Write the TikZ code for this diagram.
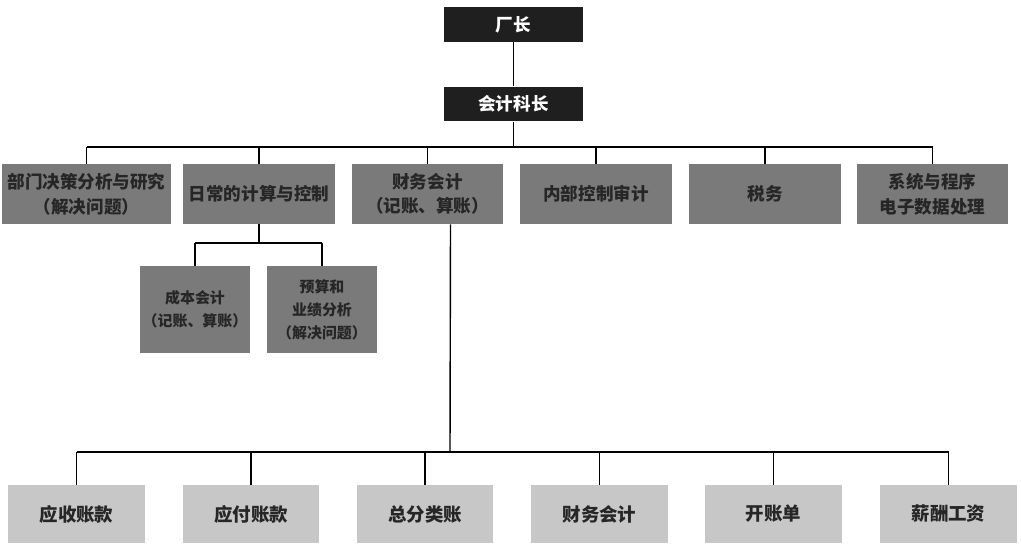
\documentclass[tikz,border=0pt]{standalone}
\usepackage{fontspec}
\newfontfamily\cjk{Noto Sans CJK SC}
\usetikzlibrary{positioning}

\begin{document}
\begin{tikzpicture}[x=0.02cm, y=-0.02cm,
		line/.style={draw, line width=0.8pt},
		head/.style={fill=black!88, text=white, minimum width=2.78cm, minimum height=0.7cm, font=\cjk\bfseries\fontsize{10}{12}\selectfont},
		dept/.style={fill=black!52, text=black!85, align=center, minimum width=3.04cm, minimum height=1.2cm, font=\cjk\bfseries\fontsize{10}{14}\selectfont},
		sub/.style={dept, inner xsep=0pt, minimum width=2.22cm, minimum height=1.74cm, font=\cjk\bfseries\fontsize{8.5}{13}\selectfont},
		leaf/.style={fill=black!22, text=black!85, minimum width=2.74cm, minimum height=1.16cm, font=\cjk\bfseries\fontsize{10.5}{12}\selectfont},
	]
		\useasboundingbox (0,0) rectangle (1021,547);

		% top of the chart
		\node (boss) [head] at (513.5,24.5) {厂长};
		\node (chief) [head] at (513.5,104) {会计科长};

		% second row
		\node (dec) [dept, minimum width=3.22cm] at (86.5,194) {部门决策分析与研究\\（解决问题）};
		\node (ctl) [dept] at (259,194) {日常的计算与控制};
		\node (fin) [dept] at (427.5,194) {财务会计\\（记账、算账）};
		\node (aud) [dept] at (596,194) {内部控制审计};
		\node (tax) [dept] at (765,194) {税务};
		\node (edp) [dept] at (932.5,194) {系统与程序\\电子数据处理};

		% under control
		\node (cost) [sub] at (195,309.5) {成本会计\\（记账、算账）};
		\node (bud) [sub] at (322,309.5) {预算和\\业绩分析\\（解决问题）};

		% bottom row
		\node (ar) [leaf] at (76.5,514) {应收账款};
		\node (ap) [leaf] at (251,514) {应付账款};
		\node (gl) [leaf] at (425,514) {总分类账};
		\node (acc) [leaf] at (599.5,514) {财务会计};
		\node (bill) [leaf] at (773.5,514) {开账单};
		\node (pay) [leaf] at (948.5,514) {薪酬工资};

		\coordinate (busa) at (513.5,147);
		\coordinate (busb) at (259,243);
		\coordinate (busc) at (450,452);

		\draw[line] (boss) -- (chief);
		\draw[line] (chief) -- (busa);
		\foreach \n in {dec,ctl,fin,aud,tax,edp}
			\draw[line] (busa -| \n.north) -- (\n.north);
		\draw[line] (busa -| dec.north) -- (busa -| edp.north);

		\draw[line] (ctl) -- (busb);
		\draw[line] (busb -| cost.north) -- (busb -| bud.north);
		\foreach \n in {cost,bud}
			\draw[line] (busb -| \n.north) -- (\n.north);

		\draw[line] ([xshift=0.46cm]fin.south) -- (busc);
		\draw[line] (busc -| ar.north) -- (busc -| pay.north);
		\foreach \n in {ar,ap,gl,acc,bill,pay}
			\draw[line] (busc -| \n.north) -- (\n.north);
	\end{tikzpicture}
\end{document}
